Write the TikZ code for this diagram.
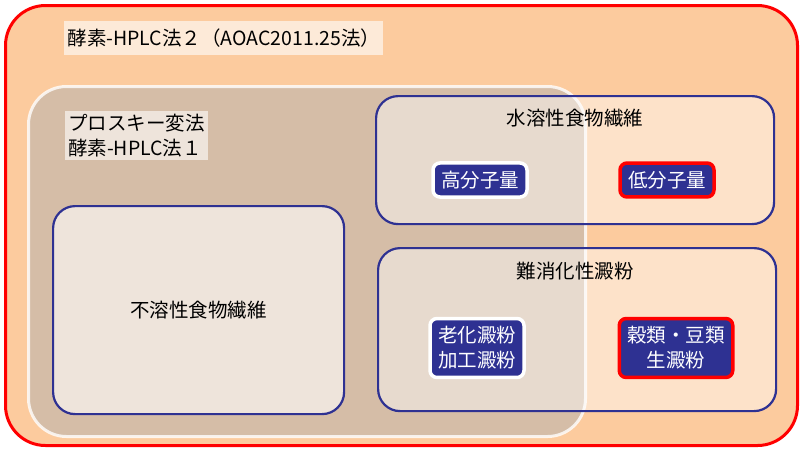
\documentclass[tikz,border=0pt]{standalone}
\usepackage{fontspec}
\setmainfont{Noto Sans CJK JP}
\begin{document}
\begin{tikzpicture}[x=1pt,y=-1pt,
  txt/.style={font=\fontsize{19.5}{25}\selectfont,text=black},
  region/.style={draw=navy,line width=2.2pt,rounded corners=22pt,fill=white,fill opacity=0.45,text opacity=1},
  chip/.style={draw=white,line width=3.5pt,fill=navy,rounded corners=7pt,text=white,font=\fontsize{19.5}{25}\selectfont,align=center,inner sep=8pt},
  redchip/.style={chip,draw=red}]
\definecolor{navy}{HTML}{2E3192}
\definecolor{peach}{HTML}{FCCB9E}
\definecolor{taupe}{HTML}{D5BDA7}
\useasboundingbox (0,0) rectangle (800,448);
\node[draw=red,line width=3pt,fill=peach,rounded corners=40pt,minimum width=792pt,minimum height=440pt,anchor=north west] (outer) at (4,4) {};
\node[fill=white,fill opacity=0.6,text opacity=1,txt,anchor=west,minimum height=34pt] (t1) at (64,38) {酵素-HPLC法２（AOAC2011.25法）};
\node[draw=white,draw opacity=0.8,line width=3pt,fill=taupe,rounded corners=38pt,minimum width=557pt,minimum height=350pt,anchor=north west] (inner) at (27,85) {};
\node[fill=white,fill opacity=0.6,text opacity=1,txt,align=left,anchor=north west,inner sep=3pt] (t2) at (65,111) {プロスキー変法\\酵素-HPLC法１};
\node[region,fill=white,fill opacity=0.6,minimum width=291pt,minimum height=208pt,anchor=north west,txt] (ins) at (52,205) {不溶性食物繊維};
\node[region,minimum width=398pt,minimum height=128pt,anchor=north west] (sol) at (375,95) {};
\node[txt] (solt) at (575,118) {水溶性食物繊維};
\node[chip] (h) at (480,180) {高分子量};
\node[redchip] (l) at (667,180) {低分子量};
\node[region,minimum width=398pt,minimum height=163pt,anchor=north west] (rs) at (377,247) {};
\node[txt] (rst) at (575,271) {難消化性澱粉};
\node[chip] (a) at (477,348) {老化澱粉\\加工澱粉};
\node[redchip] (b) at (676,348) {穀類・豆類\\生澱粉};
\end{tikzpicture}
\end{document}
